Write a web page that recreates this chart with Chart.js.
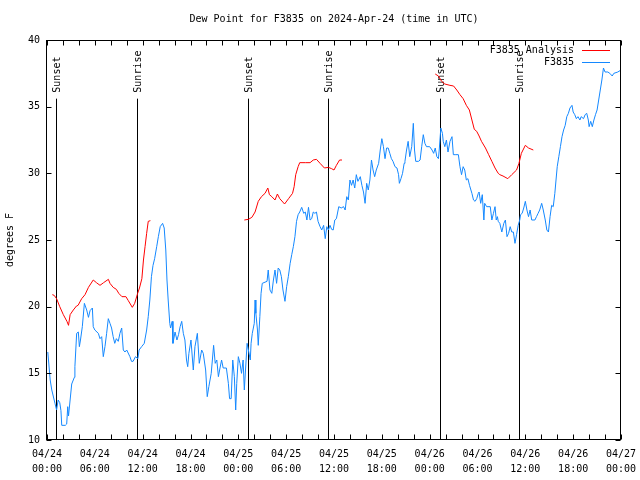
<!DOCTYPE html>
<html lang="en">
<head>
    <meta charset="UTF-8">
    <title>Dew Point for F3835</title>
    <script src="https://cdn.jsdelivr.net/npm/chart.js"></script>
    <style>
        body {
            margin: 0;
            background-color: #fff;
        }
        #dewChart {
            display: block;
        }
    </style>
</head>
<body>
    <canvas id="dewChart" width="640" height="480"></canvas>

    <script>
        // hours since 2024-04-24 00:00 UTC
        const obsHours = [0.1, 0.4, 0.6, 1.0, 1.2, 1.4, 1.6, 1.75, 1.85, 2.3, 2.47, 2.6, 2.7, 2.9, 3.1, 3.43, 3.5, 3.72, 3.93, 4.06,
            4.2, 4.43, 4.69, 4.98, 5.2, 5.4, 5.69, 5.8, 6.0, 6.44, 6.65, 6.86, 7.06, 7.27, 7.48, 7.69, 7.9, 8.1, 8.3, 8.5,
            8.7, 8.94, 9.15, 9.37, 9.57, 9.78, 10.0, 10.4, 10.6, 10.8, 11.1, 11.4, 11.55, 11.87, 12.2, 12.5, 12.7, 12.9, 13.1, 13.3,
            13.5, 13.76, 13.97, 14.2, 14.5, 14.7, 14.9, 15.05, 15.2, 15.4, 15.5, 15.7, 15.8, 16.06, 16.3, 16.5, 16.7, 16.9, 17.1, 17.3,
            17.5, 17.65, 17.8, 18.06, 18.35, 18.56, 18.86, 19.1, 19.4, 19.6, 19.9, 20.1, 20.3, 20.6, 20.9, 21.1, 21.3, 21.5, 21.7, 21.9,
            22.1, 22.5, 22.75, 22.9, 23.1, 23.3, 23.5, 23.67, 23.8, 24.0, 24.2, 24.4, 24.6, 24.75, 24.9, 25.1, 25.26, 25.5, 25.6, 25.75,
            26.0, 26.1, 26.2, 26.4, 26.5, 26.7, 26.85, 27.0, 27.6, 27.75, 27.97, 28.2, 28.4, 28.6, 28.8, 29.0, 29.2, 29.4, 29.6, 29.85,
            30.06, 30.27, 30.5, 30.7, 30.9, 31.1, 31.3, 31.5, 31.7, 31.95, 32.2, 32.4, 32.6, 32.8, 33.0, 33.2, 33.4, 33.6, 33.8, 34.0,
            34.25, 34.46, 34.7, 34.9, 35.1, 35.3, 35.5, 35.7, 35.9, 36.1, 36.3, 36.6, 36.9, 37.2, 37.4, 37.6, 37.8, 38.0, 38.2, 38.4,
            38.6, 38.8, 39.0, 39.3, 39.5, 39.7, 39.9, 40.1, 40.3, 40.5, 40.7, 40.9, 41.1, 41.3, 41.6, 41.8, 42.0, 42.2, 42.4, 42.6,
            42.8, 43.0, 43.2, 43.4, 43.65, 43.9, 44.1, 44.2, 44.4, 44.6, 44.8, 44.9, 45.1, 45.3, 45.5, 45.75, 45.95, 46.1, 46.25, 46.6,
            46.8, 47.0, 47.2, 47.4, 47.6, 48.0, 48.3, 48.5, 48.7, 48.9, 49.1, 49.2, 49.4, 49.6, 49.7, 49.9, 50.1, 50.3, 50.55, 50.8,
            50.97, 51.2, 51.6, 51.8, 52.0, 52.2, 52.4, 52.6, 52.8, 53.0, 53.3, 53.5, 53.7, 53.9, 54.1, 54.2, 54.4, 54.6, 54.8, 54.9,
            55.15, 55.6, 55.8, 56.0, 56.2, 56.35, 56.5, 56.6, 56.8, 57.05, 57.3, 57.5, 57.7, 57.9, 58.1, 58.3, 58.5, 58.7, 58.9, 59.1,
            59.3, 59.4, 59.6, 59.8, 60.0, 60.2, 60.4, 60.6, 60.8, 61.2, 61.4, 61.6, 61.8, 62.05, 62.25, 62.5, 62.7, 62.9, 63.1, 63.3,
            63.5, 63.7, 63.85, 64.0, 64.2, 64.4, 64.6, 64.8, 65.0, 65.2, 65.4, 65.6, 65.85, 66.0, 66.2, 66.4, 66.6, 66.85, 67.0, 67.3,
            67.5, 67.7, 67.9, 68.0, 68.2, 68.4, 68.6, 68.8, 69.0, 69.2, 69.4, 69.6, 69.8, 70.0, 70.35, 70.6, 70.9, 71.1, 71.6, 72.0];
        const obsDew = [16.6, 14.5, 13.75, 12.75, 12.25, 13.0, 12.8, 12.2, 11.1, 11.1, 11.2, 12.5, 11.8, 13.0, 14.2, 14.7, 15.5, 18.0, 18.1, 17.0,
            17.5, 18.5, 20.25, 19.75, 19.2, 19.7, 19.9, 18.5, 18.25, 18.0, 17.6, 17.75, 16.25, 17.0, 18.0, 19.1, 18.75, 18.4, 17.75, 17.25,
            17.6, 17.4, 18.0, 18.4, 16.75, 16.6, 16.75, 16.25, 15.9, 15.9, 16.25, 16.1, 16.75, 17.0, 17.25, 18.25, 19.25, 20.5, 22.25, 23.1,
            23.6, 24.5, 25.25, 26.0, 26.25, 25.9, 24.25, 22.0, 20.5, 18.75, 18.4, 18.9, 17.25, 18.1, 17.5, 17.9, 18.5, 18.9, 18.0, 17.5,
            16.0, 15.5, 16.5, 17.5, 15.25, 17.0, 18.0, 15.75, 16.75, 16.5, 15.25, 13.25, 14.0, 15.0, 17.1, 15.75, 16.0, 14.75, 15.4, 16.0,
            15.4, 15.4, 14.25, 13.1, 13.1, 16.0, 14.75, 12.25, 14.25, 16.25, 15.75, 15.0, 16.0, 13.75, 15.25, 17.25, 16.75, 16.0, 17.25, 18.0,
            18.75, 20.5, 19.5, 18.25, 17.1, 19.25, 21.0, 21.75, 21.9, 22.75, 21.25, 21.0, 22.0, 22.75, 21.75, 22.9, 22.75, 22.25, 21.25, 20.4,
            21.5, 22.25, 23.25, 23.9, 24.5, 25.25, 26.4, 26.9, 27.1, 27.45, 27.0, 27.1, 26.5, 27.45, 26.5, 26.6, 27.1, 27.0, 27.1, 26.4,
            26.0, 25.75, 26.1, 25.1, 26.0, 25.75, 26.1, 25.8, 25.75, 26.5, 26.6, 27.5, 27.4, 27.5, 27.25, 28.25, 28.0, 29.5, 29.1, 29.5,
            28.9, 29.9, 29.4, 29.75, 29.1, 28.6, 27.75, 29.25, 28.75, 29.5, 31.0, 30.25, 29.75, 30.25, 30.75, 31.75, 32.6, 32.0, 31.1, 31.9,
            31.9, 31.5, 31.1, 30.9, 30.5, 30.4, 29.9, 29.25, 29.6, 30.0, 30.75, 30.9, 31.75, 32.4, 31.25, 32.0, 33.75, 31.75, 30.9, 30.9,
            31.0, 32.0, 32.9, 32.25, 32.0, 32.0, 31.75, 31.5, 31.9, 31.25, 31.1, 31.75, 33.4, 33.0, 32.4, 32.0, 32.5, 31.6, 32.4, 32.75,
            31.4, 31.4, 31.4, 30.5, 29.9, 30.5, 30.25, 29.5, 29.6, 29.1, 28.5, 28.0, 27.9, 28.1, 28.5, 28.6, 27.75, 28.4, 26.5, 27.75,
            27.5, 27.5, 26.5, 27.0, 27.5, 26.5, 26.75, 26.4, 26.25, 25.6, 26.25, 26.5, 25.25, 25.5, 26.0, 25.6, 25.6, 24.75, 25.4, 26.1,
            26.5, 26.9, 27.0, 27.4, 27.9, 27.25, 26.75, 27.25, 26.5, 26.5, 26.75, 27.0, 27.25, 27.75, 27.25, 26.5, 25.75, 25.6, 26.75, 27.6,
            27.5, 28.5, 29.5, 30.5, 31.25, 32.0, 32.75, 33.25, 33.6, 34.25, 34.5, 34.9, 35.1, 34.6, 34.4, 34.1, 34.25, 34.0, 34.25, 34.1,
            34.4, 34.5, 34.0, 33.5, 33.9, 33.5, 34.0, 34.4, 34.75, 35.5, 36.25, 37.0, 37.9, 37.6, 37.6, 37.5, 37.3, 37.5, 37.6, 37.75];

        // analysis run, null = gap between runs
        const anaHours = [0.67, 0.9, 1.2, 1.6, 2.05, 2.5, 2.7, 2.9, 3.3, 3.7, 3.9, 4.35, 4.77, 5.2, 5.8, 6.2, 6.65, 7.1, 7.7, 7.9,
            8.3, 8.7, 9.0, 9.4, 9.9, 10.2, 10.7, 11.0, 11.37, 11.6, 11.9, 12.1, 12.3, 12.5, 12.7, 12.97, 18.0,
            24.75, 25.26, 25.7, 26.1, 26.5, 26.9, 27.35, 27.7, 27.9, 28.2, 28.6, 28.9, 29.2, 29.8, 30.3, 30.8, 31.0, 31.2, 31.5, 31.7,
            32.4, 33.0, 33.4, 33.8, 34.25, 34.8, 35.3, 35.7, 36.0, 36.3, 36.7, 37.0, 42.0,
            48.7, 49.1, 49.5, 49.9, 50.55, 51.0, 51.4, 51.8, 52.2, 52.6, 52.98, 53.3, 53.6, 53.9, 54.2, 54.5, 55.0, 55.4, 55.8, 56.2,
            56.6, 56.8, 57.2, 57.8, 58.3, 58.9, 59.2, 59.5, 60.0, 60.4, 61.0];
        const anaDew = [20.9, 20.85, 20.6, 20.0, 19.4, 18.9, 18.6, 19.4, 19.75, 20.05, 20.1, 20.6, 20.9, 21.45, 22.0, 21.8, 21.6, 21.8, 22.05, 21.75,
            21.45, 21.3, 21.0, 20.75, 20.75, 20.45, 19.95, 20.25, 21.0, 21.4, 22.1, 23.5, 24.5, 25.5, 26.4, 26.45, null,
            26.5, 26.55, 26.7, 27.1, 27.9, 28.25, 28.5, 28.9, 28.4, 28.25, 28.0, 28.45, 28.1, 27.7, 28.1, 28.5, 29.0, 29.9, 30.5, 30.8,
            30.8, 30.8, 31.0, 31.05, 30.75, 30.4, 30.45, 30.35, 30.25, 30.6, 31.0, 31.0, null,
            37.45, 37.3, 36.9, 36.7, 36.6, 36.55, 36.25, 35.9, 35.6, 35.1, 34.75, 34.0, 33.3, 33.15, 32.8, 32.4, 31.9, 31.4, 30.9, 30.4,
            30.0, 29.9, 29.8, 29.6, 29.9, 30.25, 30.75, 31.5, 32.1, 31.9, 31.75];

        // sun events
        const sunHours = [1.17, 11.33, 25.26, 35.3, 49.35, 59.26];
        const sunLabels = ['Sunset', 'Sunrise', 'Sunset', 'Sunrise', 'Sunset', 'Sunrise'];

        // x tick labels every 6 hours
        const tickDates = ['04/24', '04/24', '04/24', '04/24', '04/25', '04/25', '04/25', '04/25', '04/26', '04/26', '04/26', '04/26', '04/27'];
        const tickTimes = ['00:00', '06:00', '12:00', '18:00', '00:00', '06:00', '12:00', '18:00', '00:00', '06:00', '12:00', '18:00', '00:00'];

        const FONT = "'DejaVu Sans Mono', monospace";
        const titleText = 'Dew Point for F3835 on 2024-Apr-24 (time in UTC)';

        function toPoints(xs, ys) {
            return xs.map((x, i) => ({ x: x, y: ys[i] }));
        }

        // gnuplot style frame, inward ticks, sun markers, legend, title
        const decorPlugin = {
            id: 'decor',
            beforeDatasetsDraw(chart) {
                const { ctx, chartArea, scales } = chart;
                const x = scales.x, y = scales.y;
                const lineTop = y.getPixelForValue(35.6);
                ctx.save();
                ctx.strokeStyle = '#000';
                ctx.lineWidth = 1;
                ctx.fillStyle = '#000';
                ctx.font = '10px ' + FONT;
                for (let i = 0; i < sunHours.length; i++) {
                    const px = Math.round(x.getPixelForValue(sunHours[i])) + 0.5;
                    ctx.beginPath();
                    ctx.moveTo(px, lineTop);
                    ctx.lineTo(px, chartArea.bottom);
                    ctx.stroke();
                    ctx.save();
                    ctx.translate(px + 1, lineTop - 6);
                    ctx.rotate(-Math.PI / 2);
                    ctx.textAlign = 'left';
                    ctx.textBaseline = 'middle';
                    ctx.fillText(sunLabels[i], 0, 0);
                    ctx.restore();
                }
                ctx.restore();
            },
            afterDraw(chart) {
                const { ctx, chartArea, scales } = chart;
                const x = scales.x, y = scales.y;
                const L = Math.round(chartArea.left) - 0.5, R = Math.round(chartArea.right) - 0.5;
                const T = Math.round(chartArea.top) + 0.5, B = Math.round(chartArea.bottom) - 0.5;
                ctx.save();
                ctx.strokeStyle = '#000';
                ctx.lineWidth = 1;
                ctx.strokeRect(L, T, R - L, B - T);

                ctx.beginPath();
                for (let h = 0; h <= 72; h += 2) {
                    const px = Math.round(x.getPixelForValue(h)) + 0.5;
                    ctx.moveTo(px, B); ctx.lineTo(px, B - 5);
                    ctx.moveTo(px, T); ctx.lineTo(px, T + 5);
                }
                for (let v = 10; v <= 40; v += 5) {
                    const py = Math.round(y.getPixelForValue(v)) + 0.5;
                    ctx.moveTo(L, py); ctx.lineTo(L + 5, py);
                    ctx.moveTo(R, py); ctx.lineTo(R - 5, py);
                }
                ctx.stroke();

                // title
                ctx.fillStyle = '#000';
                ctx.font = '10px ' + FONT;
                ctx.textAlign = 'center';
                ctx.textBaseline = 'middle';
                ctx.fillText(titleText, (chartArea.left + chartArea.right) / 2, 19);

                // legend
                ctx.textAlign = 'right';
                chart.data.datasets.forEach((ds, i) => {
                    const ly = chartArea.top + 10 + i * 12;
                    ctx.fillStyle = '#000';
                    ctx.fillText(ds.label, chartArea.right - 47, ly);
                    ctx.strokeStyle = ds.borderColor;
                    ctx.beginPath();
                    ctx.moveTo(chartArea.right - 39, Math.round(ly) + 0.5);
                    ctx.lineTo(chartArea.right - 11, Math.round(ly) + 0.5);
                    ctx.stroke();
                });
                ctx.restore();
            }
        };

        const ctx = document.getElementById('dewChart').getContext('2d');
        const chartInstance = new Chart(ctx, {
            type: 'line',
            data: {
                datasets: [{
                    label: 'F3835 Analysis',
                    data: toPoints(anaHours, anaDew),
                    borderColor: '#ff0000',
                    borderWidth: 1,
                    pointRadius: 0,
                    tension: 0,
                    spanGaps: false
                }, {
                    label: 'F3835',
                    data: toPoints(obsHours, obsDew),
                    borderColor: '#1488ff',
                    borderWidth: 1,
                    pointRadius: 0,
                    tension: 0
                }]
            },
            options: {
                responsive: false,
                animation: false,
                layout: { padding: { top: 40, right: 19, left: 0, bottom: 0 } },
                plugins: {
                    legend: { display: false },
                    title: { display: false },
                    tooltip: { enabled: false }
                },
                scales: {
                    x: {
                        type: 'linear',
                        min: 0,
                        max: 72,
                        grid: { display: false, drawTicks: false },
                        border: { display: false },
                        ticks: {
                            stepSize: 6,
                            autoSkip: false,
                            maxRotation: 0,
                            padding: 7,
                            color: '#000',
                            font: { family: FONT, size: 10, lineHeight: 1.5 },
                            callback: (v, i) => [tickDates[i], tickTimes[i]]
                        },
                        // fixed axis band; the end labels may hang past the plot edge
                        afterFit: (s) => {
                            s.height = 40;
                            s.paddingLeft = 0;
                            s.paddingRight = 0;
                        }
                    },
                    y: {
                        min: 10,
                        max: 40,
                        grid: { display: false, drawTicks: false },
                        border: { display: false },
                        ticks: {
                            stepSize: 5,
                            padding: 7,
                            color: '#000',
                            font: { family: FONT, size: 10 }
                        },
                        title: {
                            display: true,
                            text: 'degrees F',
                            color: '#000',
                            font: { family: FONT, size: 10 },
                            padding: { top: 4, bottom: 0 }
                        },
                        afterFit: (s) => { s.width = 47; }
                    }
                }
            },
            plugins: [decorPlugin]
        });
    </script>
</body>
</html>
